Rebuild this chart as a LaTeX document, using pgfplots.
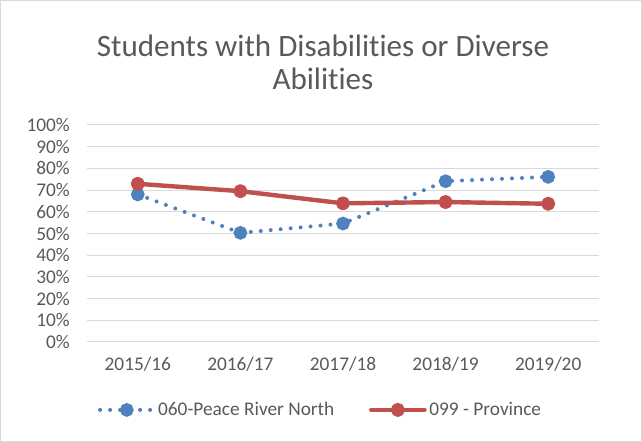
\documentclass[border=0pt]{standalone}
\usepackage{pgfplots}
\pgfplotsset{compat=1.18}
\usepackage{fontspec}
\setmainfont{Carlito}[Ligatures=NoCommon]
\definecolor{ablue}{HTML}{4F81BD}
\definecolor{ared}{HTML}{C0504D}
\definecolor{tgray}{HTML}{595959}
\definecolor{gridc}{HTML}{D9D9D9}
\begin{document}
\begin{tikzpicture}[x=0.75pt,y=0.75pt]
\draw[gridc, line width=0.75pt] (0.5,0.5) rectangle (641.5,441.5);
\node[text=tgray, font=\fontsize{23.3pt}{24.75pt}\selectfont, align=center] at (323,380) {Students with Disabilities or Diverse\\Abilities};
\begin{axis}[
  at={(64.875pt,75pt)}, anchor=south west,
  scale only axis, width=384.75pt, height=162.75pt,
  xmin=-0.5, xmax=4.5, ymin=0, ymax=100,
  xtick={0,1,2,3,4},
  xticklabels={2015/16,2016/17,2017/18,2018/19,2019/20},
  ytick={0,10,...,100},
  yticklabel={\pgfmathprintnumber{\tick}\%},
  /pgf/number format/assume math mode=true,
  ymajorgrids, major grid style={gridc, line width=0.75pt},
  axis line style={draw=none},
  major tick style={draw=none},
  tick label style={text=tgray, font=\fontsize{14.5pt}{16pt}\selectfont},
  yticklabel style={xshift=-9pt},
  xticklabel style={yshift=-8pt},
  legend columns=2,
  legend style={draw=none, fill=none, at={(0.457,-0.313)}, anchor=center,
    font=\fontsize{14.5pt}{16pt}\selectfont, text=tgray,
    /tikz/every even column/.append style={column sep=24pt}},
  legend image code/.code={\draw[#1, mark repeat=2, mark phase=2] plot coordinates {(0pt,0pt) (20pt,0pt) (40pt,0pt)};},
  clip=false,
]
\addplot[ablue, line width=3pt, dash pattern=on 0pt off 7.5pt, line cap=round,
  mark=*, mark size=3.6pt, mark options={solid, fill=ablue, draw=ablue}]
  coordinates {(0,68.0) (1,50.3) (2,54.6) (3,74.1) (4,76.1)};
\addlegendentry{060-Peace River North}
\addplot[ared, line width=3.3pt, line cap=round, line join=round,
  mark=*, mark size=3.6pt, mark options={solid, fill=ared, draw=ared}]
  coordinates {(0,72.9) (1,69.5) (2,63.9) (3,64.5) (4,63.7)};
\addlegendentry{099 - Province}
\end{axis}
\end{tikzpicture}
\end{document}
